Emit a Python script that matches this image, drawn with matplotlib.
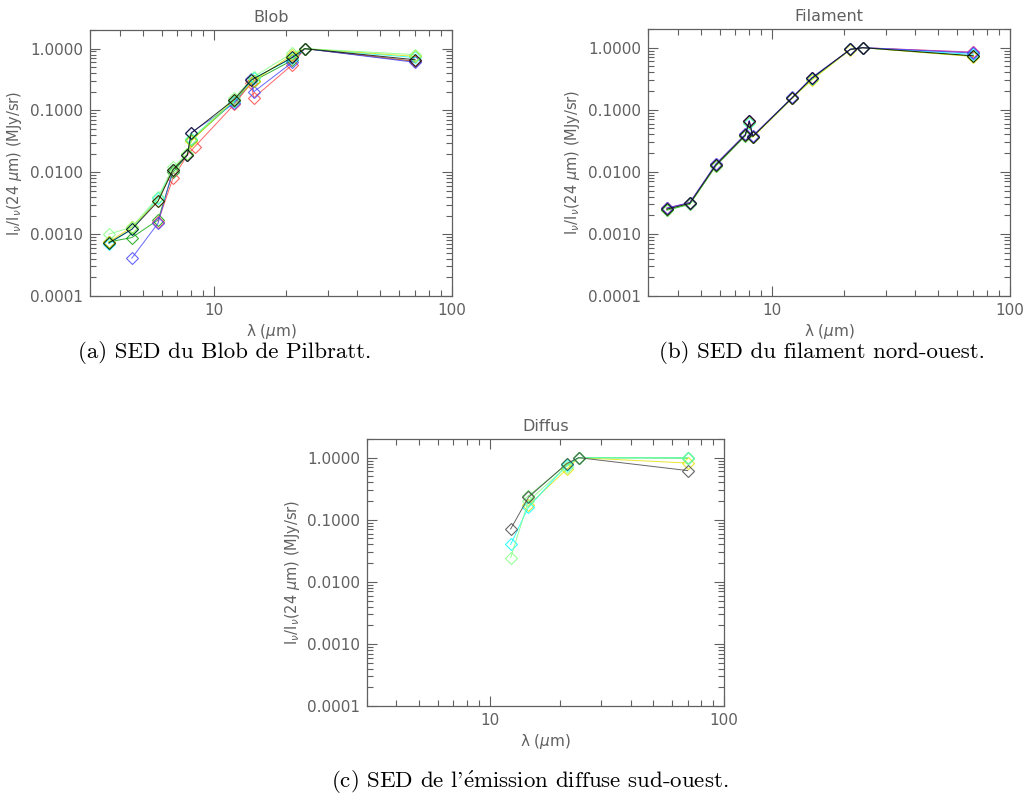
import matplotlib
matplotlib.use('Agg')
import matplotlib.pyplot as plt
from matplotlib.ticker import FixedLocator, FixedFormatter, LogLocator, NullFormatter

plt.rcParams['mathtext.fontset'] = 'dejavusans'

# Blob de Pilbratt
blob_colors = ['#00a000', '#ff4040', '#4040ff', 'cyan', '#e0e000', '#80ff80', 'black']
blob_lam = [
    [3.6, 4.5, 5.8, 6.7, 7.7, 8.0, 12.13, 14.65, 21.3, 24, 70],
    [5.8, 6.7, 7.7, 8.28, 12.13, 14.3, 14.65, 21.3, 24, 70],
    [4.5, 5.8, 6.7, 7.7, 8.0, 12.13, 14.3, 14.65, 21.3, 24, 70],
    [3.6, 4.5, 5.8, 6.7, 7.7, 8.0, 12.13, 14.65, 21.3, 24, 70],
    [3.6, 4.5, 5.8, 6.7, 7.7, 8.0, 12.13, 14.65, 21.3, 24, 70],
    [3.6, 4.5, 5.8, 6.7, 7.7, 8.0, 12.13, 14.65, 21.3, 24, 70],
    [3.6, 4.5, 5.8, 6.7, 7.7, 8.0, 12.13, 14.3, 21.3, 24, 70],
]
blob_val = [
    [0.00075, 0.00088, 0.0017, 0.010, 0.019, 0.033, 0.14, 0.30, 0.65, 1.0, 0.62],
    [0.0016, 0.008, 0.019, 0.026, 0.125, 0.28, 0.16, 0.55, 1.0, 0.62],
    [0.00041, 0.0015, 0.011, 0.019, 0.044, 0.13, 0.32, 0.20, 0.60, 1.0, 0.60],
    [0.0007, 0.0012, 0.0038, 0.011, 0.020, 0.035, 0.14, 0.33, 0.70, 1.0, 0.72],
    [0.00075, 0.0013, 0.0035, 0.011, 0.020, 0.032, 0.15, 0.30, 0.80, 1.0, 0.75],
    [0.0010, 0.0013, 0.0040, 0.012, 0.020, 0.034, 0.16, 0.35, 0.85, 1.0, 0.80],
    [0.00072, 0.0012, 0.0034, 0.011, 0.019, 0.043, 0.15, 0.31, 0.72, 1.0, 0.66],
]

# Filament nord-ouest
fil_colors = ['#00c000', '#ff4040', '#c040c0', 'cyan', '#e0e000', '#4040ff', 'black']
fil_lam = [3.6, 4.5, 5.8, 7.7, 8.0, 8.28, 12.13, 14.65, 21.3, 24, 70]
fil_val = [
    [0.0024, 0.0030, 0.0125, 0.038, 0.064, 0.037, 0.155, 0.31, 0.94, 1.0, 0.73],
    [0.0026, 0.0032, 0.013, 0.039, 0.066, 0.037, 0.156, 0.32, 0.94, 1.0, 0.84],
    [0.0026, 0.0032, 0.0135, 0.040, 0.066, 0.038, 0.156, 0.32, 0.94, 1.0, 0.85],
    [0.0025, 0.0031, 0.013, 0.039, 0.062, 0.037, 0.155, 0.31, 0.94, 1.0, 0.78],
    [0.0025, 0.0031, 0.013, 0.039, 0.063, 0.036, 0.154, 0.30, 0.93, 1.0, 0.72],
    [0.0026, 0.0032, 0.0135, 0.040, 0.067, 0.038, 0.158, 0.33, 0.94, 1.0, 0.82],
    [0.0025, 0.0031, 0.013, 0.039, 0.065, 0.037, 0.156, 0.32, 0.94, 1.0, 0.74],
]

# Emission diffuse sud-ouest
dif_colors = ['#40d040', '#e0e000', 'cyan', '#80ff80', '#404040']
dif_lam = [
    [14.65, 21.3, 24, 70],
    [14.65, 21.3, 24, 70],
    [12.3, 14.65, 21.3, 24, 70],
    [12.3, 14.65, 21.3, 24, 70],
    [12.3, 14.65, 21.3, 24, 70],
]
dif_val = [
    [0.24, 0.78, 1.0, 0.98],
    [0.17, 0.65, 1.0, 0.82],
    [0.040, 0.16, 0.75, 1.0, 1.0],
    [0.0245, 0.20, 0.72, 1.0, 1.0],
    [0.071, 0.23, 0.80, 1.0, 0.62],
]

ytick_vals = [1e-4, 1e-3, 1e-2, 1e-1, 1.0]
ytick_labels = ['0.0001', '0.0010', '0.0100', '0.1000', '1.0000']
xtick_vals = [10, 100]
xtick_labels = ['10', '100']

gray = '#606060'

fig = plt.figure(figsize=(10.24, 7.97), dpi=100)


def setup(ax, title):
    ax.set_xscale('log')
    ax.set_yscale('log')
    ax.set_xlim(3.0, 100)
    ax.set_ylim(1e-4, 2.0)
    ax.xaxis.set_major_locator(FixedLocator(xtick_vals))
    ax.xaxis.set_major_formatter(FixedFormatter(xtick_labels))
    ax.xaxis.set_minor_locator(LogLocator(base=10, subs=range(2, 10)))
    ax.xaxis.set_minor_formatter(NullFormatter())
    ax.yaxis.set_major_locator(FixedLocator(ytick_vals))
    ax.yaxis.set_major_formatter(FixedFormatter(ytick_labels))
    ax.yaxis.set_minor_locator(LogLocator(base=10, subs=range(2, 10)))
    ax.yaxis.set_minor_formatter(NullFormatter())
    ax.tick_params(which='both', direction='in', top=True, right=True,
                   color=gray, labelcolor=gray, labelsize=11, width=0.8)
    ax.tick_params(which='major', length=7, pad=5)
    ax.tick_params(which='minor', length=4)
    for s in ax.spines.values():
        s.set_color(gray)
        s.set_linewidth(0.9)
    ax.set_title(title, color=gray, fontsize=11.5, pad=6)
    ax.set_xlabel('\u03bb ($\\mu$m)', color=gray, fontsize=11, labelpad=3)
    ax.set_ylabel(r'I$_\nu$/I$_\nu$(24 $\mu$m) (MJy/sr)', color=gray, fontsize=10.5, labelpad=4)


def draw(ax, lams, vals, colors):
    for lam, val, c in zip(lams, vals, colors):
        ax.plot(lam, val, color=c, lw=0.7, marker='D', ms=6, mfc='none',
                mec=c, mew=0.8, alpha=0.8)


ax_a = fig.add_axes([90 / 1024, 1 - 296 / 797, 362 / 1024, 266 / 797])
setup(ax_a, 'Blob')
draw(ax_a, blob_lam, blob_val, blob_colors)

ax_b = fig.add_axes([648 / 1024, 1 - 296 / 797, 362 / 1024, 267 / 797])
setup(ax_b, 'Filament')
draw(ax_b, [fil_lam] * len(fil_val), fil_val, fil_colors)

ax_c = fig.add_axes([367 / 1024, 1 - 706 / 797, 357 / 1024, 267 / 797])
setup(ax_c, 'Diffus')
draw(ax_c, dif_lam, dif_val, dif_colors)

cap = dict(fontsize=16.5, family='cmr10', ha='center', va='center', color='black')
fig.text(225 / 1024, 1 - 353 / 797, '(a) SED du Blob de Pilbratt.', **cap)
fig.text(822 / 1024, 1 - 353 / 797, '(b) SED du filament nord-ouest.', **cap)
plt.rcParams['mathtext.fontset'] = 'cm'
fig.text(530 / 1024, 1 - 782 / 797,
         "(c) SED de l'" + r"$\mathrm{\acute{e}}$" + "mission diffuse sud-ouest.", **cap)

fig.savefig('out.png', dpi=100)
